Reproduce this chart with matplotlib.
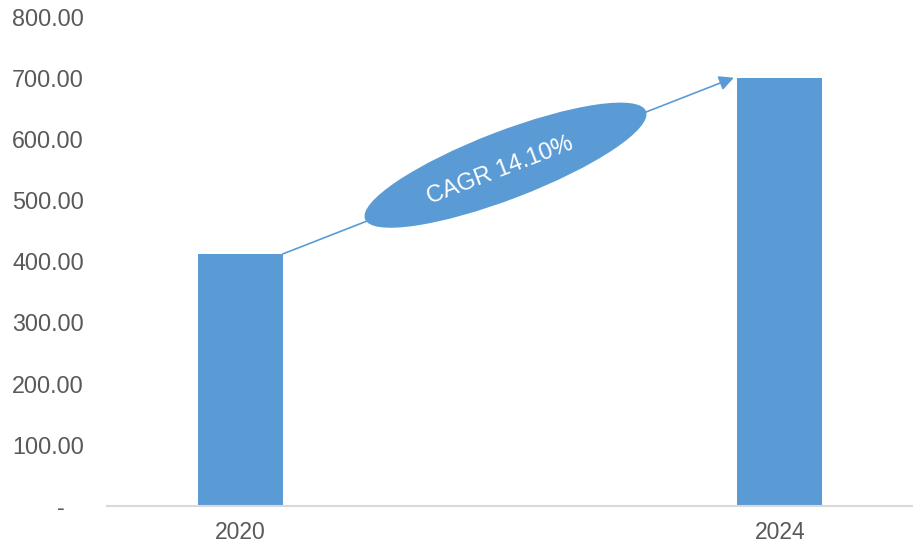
import matplotlib
matplotlib.use("Agg")
import matplotlib.pyplot as plt
from matplotlib.patches import Ellipse
from matplotlib.transforms import ScaledTranslation

plt.rcParams['font.family'] = ['Liberation Sans', 'DejaVu Sans']

# data
years = ['2020', '2024']
values = [412.0, 700.0]
yticks = [0, 100, 200, 300, 400, 500, 600, 700, 800]
cagr_label = 'CAGR 14.10%'

blue = '#5B9BD5'
grey = '#595959'

fig = plt.figure(figsize=(9.13, 5.46), dpi=100)
ax = fig.add_axes([107/913, 40/546, 806/913, (506-16.5)/546])

x = list(range(len(years)))
bw = 0.158
ax.bar(x, values, width=bw, color=blue, zorder=2)

ax.set_xlim(-0.247, 1.247)
ax.set_ylim(0, 800)
ax.set_xticks(x)
ax.set_xticklabels(years, fontsize=16.5, color=grey)
ax.set_yticks(yticks)
ax.set_yticklabels(['-   '] + ['%.2f' % v for v in yticks[1:]], fontsize=16.8, color=grey)
ax.tick_params(axis='both', length=0)
ax.tick_params(axis='y', pad=16.5)
ax.tick_params(axis='x', pad=11)

for s in ['top', 'right', 'left']:
    ax.spines[s].set_visible(False)
ax.spines['bottom'].set_color('#D9D9D9')
ax.spines['bottom'].set_linewidth(1.5)

# growth arrow from top of first bar to top of second bar
ax.annotate('', xy=(x[1] - bw/2 - 0.006, values[1]), xytext=(x[0] + bw/2, values[0]),
            arrowprops=dict(arrowstyle='-|>', color=blue, lw=1.2, mutation_scale=22,
                            shrinkA=0, shrinkB=0), zorder=3)

# CAGR bubble (drawn in inches so it keeps its shape)
cx, cy = 0.4917, 557
tr = fig.dpi_scale_trans + ScaledTranslation(cx, cy, ax.transData)
ax.add_patch(Ellipse((0, 0), width=3.01, height=0.68, angle=21, transform=tr,
                     facecolor=blue, edgecolor='none', zorder=4))
ax.text(cx - 0.01, cy - 9, cagr_label, rotation=21, color='white', fontsize=17,
        ha='center', va='center', rotation_mode='anchor', zorder=5)

fig.savefig('out.png', dpi=100)
